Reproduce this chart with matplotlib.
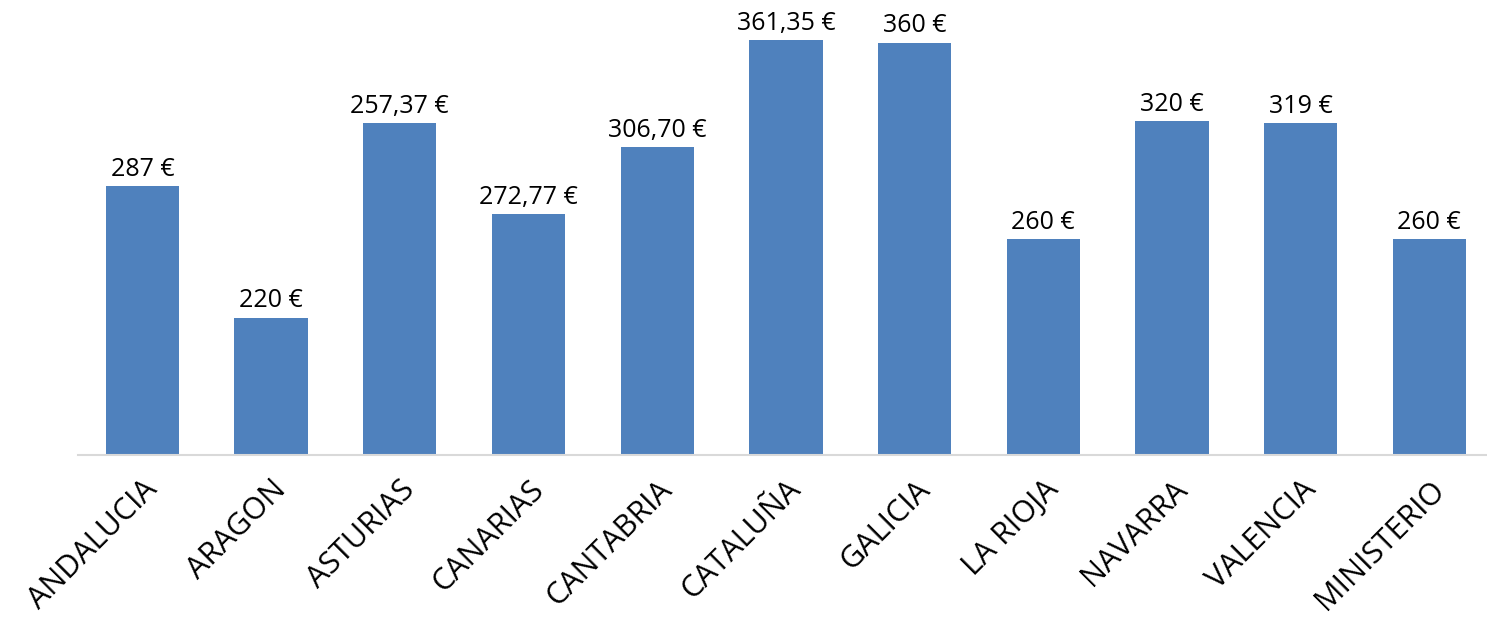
import numpy as np
import matplotlib.pyplot as plt

# Datos
regiones = ["ANDALUCIA", "ARAGON", "ASTURIAS", "CANARIAS", "CANTABRIA", "CATALUÑA",
            "GALICIA", "LA RIOJA", "NAVARRA", "VALENCIA", "MINISTERIO"]
importes = [287, 220, 319, 272.77, 306.70, 361.35, 360, 260, 320, 319, 260]
etiquetas = ["287 €", "220 €", "257,37 €", "272,77 €", "306,70 €", "361,35 €",
             "360 €", "260 €", "320 €", "319 €", "260 €"]

plt.rcParams["font.family"] = ["Open Sans", "DejaVu Sans"]

fig = plt.figure(figsize=(14.87, 6.32), dpi=100)
ax = fig.add_axes([0.0525, 0.28, 0.952, 0.72])

x = np.arange(len(regiones))
barras = ax.bar(x, importes, width=0.57, color="#4f81bd")

for b, txt in zip(barras, etiquetas):
    ax.annotate(txt, (b.get_x() + b.get_width() / 2, b.get_height()),
                xytext=(0, 3), textcoords="offset points",
                ha="center", va="bottom", fontsize=18, color="black")

ax.set_xlim(-0.5, 10.5)
ax.set_ylim(150, 381.7)
ax.set_xticks(x)
ax.set_xticklabels(regiones, rotation=45, ha="right", rotation_mode="anchor", fontsize=22)
ax.tick_params(axis="x", length=0, pad=14)
ax.set_yticks([])
for s in ["top", "right", "left"]:
    ax.spines[s].set_visible(False)
ax.spines["bottom"].set_color("#d9d9d9")
ax.spines["bottom"].set_linewidth(1.5)

fig.savefig("out.png", dpi=100)
